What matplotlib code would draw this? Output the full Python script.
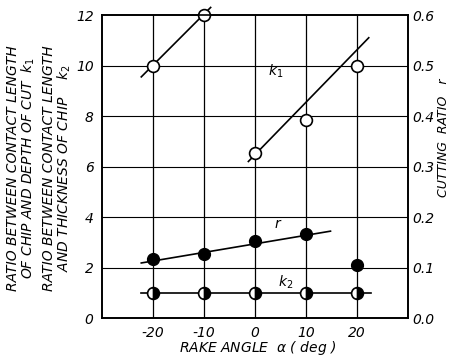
import matplotlib.pyplot as plt
import numpy as np

# rake angle (deg)
alpha = [-20, -10, 0, 10, 20]

# k1: contact length / depth of cut
k1 = [10.0, 12.0, 6.55, 7.85, 10.0]
# cutting ratio r (right axis, 0-0.6)
r = [0.117, 0.126, 0.152, 0.166, 0.105]
# k2: contact length / chip thickness
k2 = [1.0, 1.0, 1.0, 1.0, 1.0]

# hand drawn fit lines (end points)
k1_fit_a_x = [-22.3, -8.7]
k1_fit_a_y = [9.55, 12.3]
k1_fit_b_x = [-1.3, 22.3]
k1_fit_b_y = [6.2, 11.1]
r_fit_x = [-22.3, 14.8]
r_fit_y = [0.109, 0.172]
k2_fit_x = [-22.3, 22.7]
k2_fit_y = [1.0, 1.0]

font = {'family': 'DejaVu Sans', 'style': 'italic'}

fig = plt.figure(figsize=(4.54, 3.62), dpi=100)
ax = fig.add_axes([0.2247, 0.1215, 0.674, 0.837])
ax2 = ax.twinx()

ax.set_xlim(-30, 30)
ax.set_ylim(0, 12)
ax2.set_ylim(0, 0.6)

# grid
for x in [-20, -10, 0, 10, 20]:
    ax.axvline(x, color='black', lw=0.9, zorder=1)
for y in [2, 4, 6, 8, 10]:
    ax.axhline(y, color='black', lw=0.8, zorder=1)

lc = dict(color='black', lw=1.2, zorder=2)
ax.plot(k1_fit_a_x, k1_fit_a_y, clip_on=False, **lc)
ax.plot(k1_fit_b_x, k1_fit_b_y, **lc)
ax2.plot(r_fit_x, r_fit_y, **lc)
ax.plot(k2_fit_x, k2_fit_y, **lc)

ax.plot(alpha, k1, 'o', ms=8.5, mfc='white', mec='black', mew=1.2,
        zorder=3, clip_on=False)
ax2.plot(alpha, r, 'o', ms=8.5, mfc='black', mec='black', zorder=3)
ax.plot(alpha, k2, 'o', ms=8.5, fillstyle='right', mfc='black',
        mfcalt='white', mec='black', mew=1.2, zorder=3)

ax.text(2.5, 9.6, '$k_1$', fontsize=10)
ax.text(3.8, 3.55, 'r', fontsize=10, **font)
ax.text(4.5, 1.25, '$k_2$', fontsize=10)

ax.set_xticks([-20, -10, 0, 10, 20])
ax.set_xticklabels(['-20', '-10', '0', '10', '20'], fontsize=10, **font)
ax.set_yticks([0, 2, 4, 6, 8, 10, 12])
ax.set_yticklabels(['0', '2', '4', '6', '8', '10', '12'], fontsize=10, **font)
ax2.set_yticks([0, 0.1, 0.2, 0.3, 0.4, 0.5, 0.6])
ax2.set_yticklabels(['0.0', '0.1', '0.2', '0.3', '0.4', '0.5', '0.6'],
                    fontsize=10, **font)
ax.tick_params(length=0, pad=6)
ax2.tick_params(length=0, pad=3)
for a in (ax, ax2):
    for s in a.spines.values():
        s.set_linewidth(1.2)

fig.text(0.568, 0.038, r'RAKE ANGLE  $\alpha$ ( deg )', ha='center', va='center',
         fontsize=10, **font)
fig.text(0.048, 0.535, 'RATIO BETWEEN CONTACT LENGTH\nOF CHIP AND DEPTH OF CUT  $k_1$',
         rotation=90, ha='center', va='center', multialignment='center',
         fontsize=10, linespacing=1.0, **font)
fig.text(0.127, 0.535, 'RATIO BETWEEN CONTACT LENGTH\nAND THICKNESS OF CHIP    $k_2$',
         rotation=90, ha='center', va='center', multialignment='center',
         fontsize=10, linespacing=1.0, **font)
fig.text(0.977, 0.62, 'CUTTING  RATIO   r', rotation=90, ha='center', va='center',
         fontsize=9, **font)

fig.savefig('out.png', dpi=100)
